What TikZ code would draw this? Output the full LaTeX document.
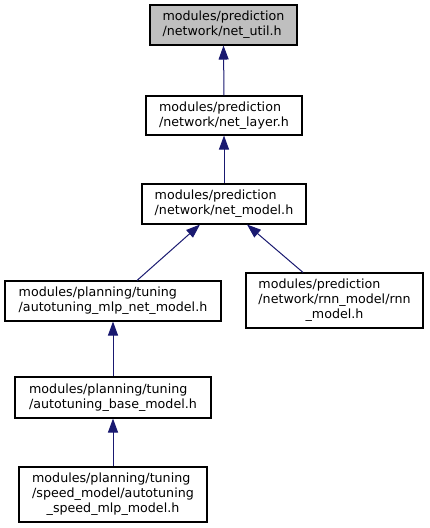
\documentclass[tikz,border=0pt]{standalone}
\usepackage{fontspec}
\setmainfont{DejaVu Sans}
\usetikzlibrary{arrows.meta}
\definecolor{edgeblue}{HTML}{191970}
\definecolor{cur}{HTML}{BFBFBF}
\begin{document}
\begin{tikzpicture}[x=0.75pt,y=-0.75pt,
  every node/.style={font=\fontsize{9.5pt}{11.2pt}\selectfont},
  filebox/.style={draw=black,line width=0.8pt,inner sep=0pt,align=left,fill=white},
  edge/.style={draw=edgeblue,line width=0.75pt,{Triangle[width=7.5pt,length=10.5pt]}-}]
\useasboundingbox (0,0) rectangle (429,528);
\node[filebox,fill=cur,minimum width=110.25pt,minimum height=30pt] (n1) at (223.5,25) {modules/prediction\\/network/net\_util.h};
\node[filebox,minimum width=117pt,minimum height=29.25pt] (n2) at (224,115.5) {modules/prediction\\/network/net\_layer.h};
\node[filebox,minimum width=123pt,minimum height=30pt] (n3) at (224,204) {modules/prediction\\/network/net\_model.h};
\node[filebox,minimum width=162pt,minimum height=30pt] (n4) at (113,301) {modules/planning/tuning\\/autotuning\_mlp\_net\_model.h};
\node[filebox,minimum width=132.75pt,minimum height=41.25pt] (n5) at (334.5,300.5) {\begin{tabular}{@{}l@{}}modules/prediction\\/network/rnn\_model/rnn\\\multicolumn{1}{@{}c@{}}{\_model.h}\end{tabular}};
\node[filebox,minimum width=147pt,minimum height=30.75pt] (n6) at (113,397.5) {modules/planning/tuning\\/autotuning\_base\_model.h};
\node[filebox,minimum width=141pt,minimum height=41.25pt] (n7) at (113,494.5) {\begin{tabular}{@{}l@{}}modules/planning/tuning\\/speed\_model/autotuning\\\multicolumn{1}{@{}c@{}}{\_speed\_mlp\_model.h}\end{tabular}};
\draw[edge] (n1.south) -- (n2.north);
\draw[edge] (n2.south) -- (n3.north);
\draw[edge] ([xshift=-18pt]n3.south) -- ([xshift=18pt]n4.north);
\draw[edge] ([xshift=17.25pt]n3.south) -- ([xshift=-23.6pt]n5.north);
\draw[edge] (n4.south) -- (n6.north);
\draw[edge] (n6.south) -- (n7.north);
\end{tikzpicture}
\end{document}
